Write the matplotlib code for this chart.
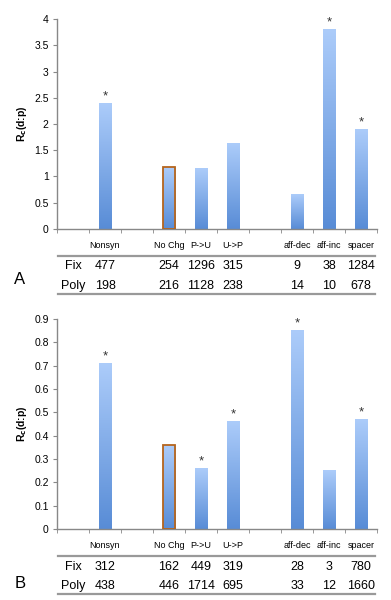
import numpy as np
import matplotlib
matplotlib.use("Agg")
import matplotlib.pyplot as plt
from matplotlib.transforms import blended_transform_factory
from matplotlib.lines import Line2D

plt.rcParams['font.family'] = ['Liberation Sans', 'DejaVu Sans']

categories = ["", "Nonsyn", "", "No Chg", "P->U", "U->P", "", "aff-dec", "aff-inc", "spacer"]

vals_A = [None, 2.4, None, 1.18, 1.15, 1.62, None, 0.65, 3.8, 1.89]
star_A = [False, True, False, False, False, False, False, False, True, True]
fix_A = ["Fix", "477", "", "254", "1296", "315", "", "9", "38", "1284"]
poly_A = ["Poly", "198", "", "216", "1128", "238", "", "14", "10", "678"]

vals_B = [None, 0.71, None, 0.36, 0.26, 0.46, None, 0.85, 0.25, 0.47]
star_B = [False, True, False, False, True, True, False, True, False, True]
fix_B = ["Fix", "312", "", "162", "449", "319", "", "28", "3", "780"]
poly_B = ["Poly", "438", "", "446", "1714", "695", "", "33", "12", "1660"]

fig = plt.figure(figsize=(3.91, 6.0), dpi=100)

top_c = np.array([172, 204, 250]) / 255
bot_c = np.array([88, 140, 214]) / 255
grad = np.linspace(0, 1, 256)[:, None]
cols = bot_c[None, :] * (1 - grad) + top_c[None, :] * grad
grad_img = cols[:, None, :]

def panel(rect, vals, stars, fix, poly, ymax, ystep, fmt, letter, tab_y, letter_y):
    ax = fig.add_axes(rect)
    x = np.arange(len(categories))
    w = 0.4
    for xi, v in zip(x, vals):
        if v is None:
            continue
        ax.imshow(grad_img, extent=[xi - w / 2, xi + w / 2, 0, v], origin='lower',
                  aspect='auto', interpolation='bilinear', zorder=2)
        if categories[xi] == "No Chg":
            ax.add_patch(plt.Rectangle((xi - w / 2, 0), w, v, fill=False,
                                       edgecolor='#b5651d', lw=1.3, zorder=3))
    for xi, v, s in zip(x, vals, stars):
        if s:
            ax.text(xi, v + ymax * 0.004, "*", ha='center', va='bottom', fontsize=9.5,
                    color='#333333')
    ax.set_xlim(-0.5, len(categories) - 0.5)
    ax.set_ylim(0, ymax)
    ticks = np.arange(0, ymax + ystep / 2, ystep)
    ax.set_yticks(ticks)
    ax.set_yticklabels([fmt(t) for t in ticks], fontsize=7.5)
    ax.set_xticks(x)
    ax.set_xticklabels(categories, fontsize=6.5)
    ax.set_xticks(np.arange(-0.5, len(categories)), minor=True)
    ax.tick_params(axis='x', which='major', length=0, pad=9)
    ax.tick_params(axis='x', which='minor', length=3, color='#888888', direction='out')
    ax.tick_params(axis='y', length=3, color='#888888', direction='out', pad=3)
    for sp in ['top', 'right']:
        ax.spines[sp].set_visible(False)
    for sp in ['left', 'bottom']:
        ax.spines[sp].set_color('#888888')
        ax.spines[sp].set_linewidth(1.0)
    ax.set_ylabel(r"R$_{\mathbf{c}}$(d:p)", fontsize=7.5, fontweight='bold', labelpad=4)

    tr = blended_transform_factory(ax.transData, fig.transFigure)
    ty_line1, ty_fix, ty_poly, ty_line2 = tab_y
    for xi in x:
        ax.text(xi, ty_fix, fix[xi], transform=tr, ha='center', va='center', fontsize=9)
        ax.text(xi, ty_poly, poly[xi], transform=tr, ha='center', va='center', fontsize=9)
    for yy in (ty_line1, ty_line2):
        fig.add_artist(Line2D([-0.48, 9.45], [yy, yy], transform=tr, color='#999999', lw=1.6))
    fig.text(20 / 391, letter_y, letter, fontsize=12, ha='center', va='center')
    return ax

panel([57 / 391, 1 - 229 / 600, 320 / 391, 210 / 600], vals_A, star_A, fix_A, poly_A,
      4, 0.5, lambda t: ("%g" % t), "A",
      (1 - 256 / 600, 1 - 266 / 600, 1 - 286 / 600, 1 - 294 / 600), 1 - 280 / 600)
panel([57 / 391, 1 - 529 / 600, 320 / 391, 210 / 600], vals_B, star_B, fix_B, poly_B,
      0.9, 0.1, lambda t: ("%g" % round(t, 1)), "B",
      (1 - 556 / 600, 1 - 567 / 600, 1 - 586 / 600, 1 - 594 / 600), 1 - 583 / 600)

fig.savefig("out.png", dpi=100)
